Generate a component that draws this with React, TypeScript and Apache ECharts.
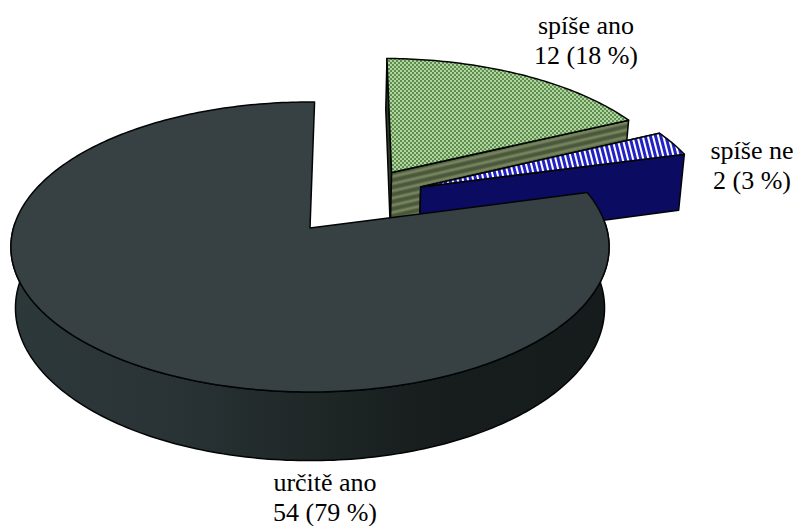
import React, { useEffect, useRef } from "react";
import * as echarts from "echarts";

// Answer counts, in the order they run clockwise from the top of the pie.
const categories = ["spíše ano", "spíše ne", "určitě ano"];
const counts = [12, 2, 54];

const WIDTH = 798;
const HEIGHT = 526;
const START_DEG = 1;

// Perspective of the disc: k is the foreshortening, the two planes are its top and bottom faces.
const k = 0.131;
const TOP_PLANE = { cx: 310, cy: 228, rx: 296.5, ry: 142.5 };
const BOTTOM_PLANE = { cx: 310, cy: 288, rx: 292, ry: 150 };

// Per-slice drawing settings, indexed like the categories.
const explodeU = [0.29, 0.388, 0];
const explodeV = [-0.41, -0.299, 0];
const labelX = [586, 752, 325];
const labelY = [38, 163, 495];

type Pt = [number, number];

function project(plane: typeof TOP_PLANE, u: number, v: number): Pt {
  const d = 1 - k * v;
  return [plane.cx + (plane.rx * u) / d, plane.cy + (plane.ry * v) / d];
}

function tile(w: number, h: number, paint: (c: CanvasRenderingContext2D) => void) {
  const canvas = document.createElement("canvas");
  canvas.width = w;
  canvas.height = h;
  paint(canvas.getContext("2d") as CanvasRenderingContext2D);
  return canvas;
}

function buildFills() {
  const checker = tile(4, 4, (c) => {
    c.fillStyle = "#b0d69e";
    c.fillRect(0, 0, 4, 4);
    c.fillStyle = "#5f8c50";
    c.fillRect(0, 0, 2, 2);
    c.fillRect(2, 2, 2, 2);
  });
  const bands = tile(8, 7, (c) => {
    c.fillStyle = "#75835e";
    c.fillRect(0, 0, 8, 7);
    c.fillStyle = "#5f6d4b";
    c.fillRect(0, 2, 8, 1);
    c.fillStyle = "#4b583c";
    c.fillRect(0, 3, 8, 3);
    c.fillStyle = "#5f6d4b";
    c.fillRect(0, 6, 8, 1);
  });
  const stripes = tile(5, 8, (c) => {
    c.fillStyle = "#ffffff";
    c.fillRect(0, 0, 5, 8);
    c.fillStyle = "#2222c4";
    c.fillRect(0, 0, 3, 8);
  });
  return {
    top: [
      { image: checker, repeat: "repeat" },
      { image: stripes, repeat: "repeat", rotation: -0.25 },
      "#374144",
    ],
    cutStart: ["#2f3a28", "#0b0b62", "#1a2020"],
    cutEnd: [
      { image: bands, repeat: "repeat", rotation: -0.226 },
      "#0b0b62",
      "#1a2020",
    ],
  };
}

export default function App() {
  const ref = useRef<HTMLDivElement>(null);

  useEffect(() => {
    const chart = echarts.init(ref.current as HTMLDivElement, null, { renderer: "svg" });
    const fills = buildFills();
    const total = counts.reduce((a, b) => a + b, 0);
    const startOf = (i: number) =>
      START_DEG + (counts.slice(0, i).reduce((a, b) => a + b, 0) / total) * 360;

    const wallFill = new echarts.graphic.LinearGradient(0, 0, 1, 0, [
      { offset: 0, color: "#2d383b" },
      { offset: 0.25, color: "#2a3437" },
      { offset: 0.5, color: "#1f2727" },
      { offset: 0.72, color: "#171c1c" },
      { offset: 1, color: "#161b1b" },
    ]);

    const renderItem = (params: any, api: any) => {
      const i = params.dataIndex as number;
      const value = api.value(0) as number;
      const a0 = startOf(i);
      const a1 = a0 + (value / total) * 360;
      const ou = explodeU[i];
      const ov = explodeV[i];
      const point = (plane: typeof TOP_PLANE, deg: number, r = 1) => {
        const t = (deg * Math.PI) / 180;
        return project(plane, ou + r * Math.sin(t), ov - r * Math.cos(t));
      };
      const arc = (plane: typeof TOP_PLANE) => {
        const pts: Pt[] = [];
        const steps = Math.max(4, Math.ceil(a1 - a0));
        for (let s = 0; s <= steps; s++) pts.push(point(plane, a0 + ((a1 - a0) * s) / steps));
        return pts;
      };
      const outline = { stroke: "#030505", lineWidth: 1.5, lineJoin: "round" };
      const children: any[] = [];
      const poly = (points: Pt[], fill: any) =>
        children.push({ type: "polygon", shape: { points }, style: { fill, ...outline } });

      // Faces left by cutting a slice out: only exploded slices show them.
      if (ou !== 0 || ov !== 0) {
        [a0, a1].forEach((deg, side) => {
          poly(
            [
              point(TOP_PLANE, deg, 0),
              point(TOP_PLANE, deg),
              point(BOTTOM_PLANE, deg),
              point(BOTTOM_PLANE, deg, 0),
            ],
            side === 0 ? fills.cutStart[i] : fills.cutEnd[i],
          );
        });
      } else {
        // Outer wall on the near half of the rim.
        const near: number[] = [];
        for (let d = Math.ceil(a0); d <= a1; d++) {
          if (Math.cos((d * Math.PI) / 180) < 0.05) near.push(d);
        }
        poly(
          [
            ...near.map((d) => point(TOP_PLANE, d)),
            ...near.slice().reverse().map((d) => point(BOTTOM_PLANE, d)),
          ],
          wallFill,
        );
      }
      poly([point(TOP_PLANE, a0, 0), ...arc(TOP_PLANE)], fills.top[i]);

      // Two-line label: name, then count with its share.
      const lines = [categories[i], `${value} (${Math.round((value / total) * 100)} %)`];
      lines.forEach((text, n) => {
        children.push({
          type: "text",
          x: labelX[i],
          y: labelY[i] + n * 30,
          style: {
            text,
            fill: "#000000",
            font: '26px "Liberation Serif"',
            align: "center",
            verticalAlign: "bottom",
          },
        });
      });
      return { type: "group", children };
    };

    chart.setOption({
      animation: false,
      backgroundColor: "#ffffff",
      series: [
        {
          type: "custom",
          coordinateSystem: "none",
          silent: true,
          data: counts.map((c) => [c]),
          renderItem,
        },
      ],
    });
    return () => chart.dispose();
  }, []);

  return <div ref={ref} style={{ position: "fixed", left: 0, top: 0, width: WIDTH, height: HEIGHT }} />;
}
